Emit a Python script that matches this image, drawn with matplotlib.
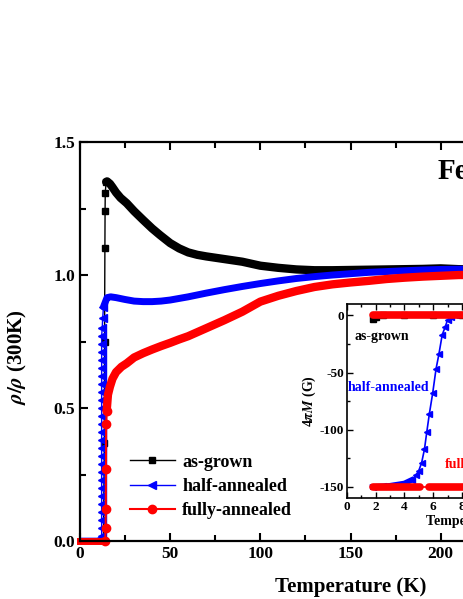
import matplotlib
matplotlib.use("Agg")
import matplotlib.pyplot as plt
from matplotlib.ticker import MultipleLocator

plt.rcParams['font.family'] = ['Liberation Serif', 'DejaVu Serif']
plt.rcParams['font.weight'] = 'bold'
plt.rcParams['mathtext.fontset'] = 'stix'
plt.rcParams['axes.unicode_minus'] = False

# --- main panel: rho/rho(300K) vs T ---
T_grown = [0, 5, 10, 13.0, 13.5, 13.6, 13.8, 13.9, 14.0, 14.5, 15, 16.6, 18, 20, 22.5, 25.9,
           30, 35, 40, 44.4, 50, 55, 60, 65, 70, 75, 80, 90, 100, 110, 120, 130, 140,
           150, 160, 170, 180, 190, 200, 210, 220, 240, 260, 280, 300]
r_grown = [0, 0, 0, 0, 0.37, 0.75, 1.10, 1.24, 1.31, 1.35, 1.352, 1.343, 1.33, 1.31, 1.29, 1.27,
           1.24, 1.207, 1.175, 1.15, 1.12, 1.10, 1.085, 1.076, 1.07, 1.065, 1.06, 1.05, 1.035, 1.027, 1.021, 1.018, 1.018,
           1.019, 1.02, 1.021, 1.022, 1.023, 1.025, 1.022, 1.02, 1.015, 1.01, 1.005, 1.0]

T_half = [0, 5, 10, 11.5, 12.0, 12.0, 12.0, 12.0, 12.0, 12.0, 12.0, 12.0, 12.0, 12.0, 12.0, 12.0,
          12.0, 12.0, 12.0, 12.0, 12.0, 12.0, 12.0, 12.0, 12.0, 12.0, 12.0, 12.0, 12.0, 12.0, 12.3, 12.6, 13.0,
          15, 17, 20, 25, 30, 35, 40, 45, 50, 55, 60, 65, 70, 80, 90, 100, 110, 120, 130, 140,
          150, 160, 170, 180, 190, 200, 210, 220, 240, 260, 280, 300]
r_half = [0.01, 0.01, 0.01, 0.01, 0.02, 0.05, 0.08, 0.11, 0.14, 0.17, 0.20, 0.23, 0.26, 0.29, 0.32, 0.35,
          0.38, 0.41, 0.44, 0.47, 0.50, 0.53, 0.56, 0.59, 0.62, 0.65, 0.68, 0.71, 0.74, 0.77, 0.80, 0.84, 0.88,
          0.915, 0.918, 0.915, 0.908, 0.902, 0.9, 0.9, 0.902, 0.906, 0.912, 0.918, 0.925, 0.932, 0.945, 0.957, 0.968, 0.978, 0.987, 0.994, 1.0,
          1.005, 1.01, 1.013, 1.016, 1.019, 1.021, 1.022, 1.02, 1.016, 1.01, 1.005, 1.0]

T_full = [0, 5, 10, 14.0, 14.2, 14.3, 14.4, 14.5, 14.8, 15.5, 16.6, 18, 20, 23, 25.9, 30, 35, 40, 45,
          50, 55, 60, 65, 70, 75, 80, 90, 100, 110, 120, 130, 140, 150, 160, 170, 180, 190, 200,
          210, 220, 240, 260, 280, 300]
r_full = [0, 0, 0, 0, 0.05, 0.12, 0.27, 0.44, 0.49, 0.55, 0.58, 0.61, 0.635, 0.655, 0.668, 0.69, 0.706, 0.72, 0.733,
          0.745, 0.758, 0.77, 0.785, 0.80, 0.815, 0.83, 0.862, 0.9, 0.922, 0.94, 0.955, 0.965, 0.972, 0.978, 0.985, 0.99, 0.994, 0.997,
          1.0, 1.0, 1.0, 1.0, 1.0, 1.0]

# --- inset: 4piM vs T ---
Ti_grown = [1.8, 2.0, 2.5, 4, 6, 8, 10, 12, 14, 16, 18]
M_grown = [-3, -1, 0, 0, 0, 0, 0, 0, 0, 0, 0]

Ti_half = [1.8, 2.5, 3, 3.5, 4, 4.5, 4.8, 5.0, 5.2, 5.4, 5.56, 5.74, 5.97, 6.2, 6.4, 6.63, 6.84, 7.0, 7.25,
           7.5, 8, 10, 12, 14, 16, 18]
M_half = [-150, -149.5, -149, -148, -147, -144, -140, -136, -129, -117, -102, -86, -68, -47, -34, -17, -10, -4, -1,
          0, 0, 0, 0, 0, 0, 0]

Ti_full_zfc = [1.8, 3, 4, 5.1, 5.4, 5.7, 7, 9, 12, 15, 18]
M_full_zfc = [-150, -150, -150, -150, -150, -150, -150, -150, -150, -150, -150]
Ti_full_fc = [1.8, 4, 6, 8, 10, 12, 14, 16, 18]
M_full_fc = [0, 0, 0, 0, 0, 0, 0, 0, 0]

fig = plt.figure(figsize=(4.63, 5.99), dpi=100)
ax = fig.add_axes([0.1728, 0.0968, 1.1685, 0.6661])

ax.plot(T_grown, r_grown, '-s', color='black', lw=1, ms=5, label='as-grown', markevery=list(range(4, 10)))
ax.plot(T_grown[9:], r_grown[9:], '-', color='black', lw=6, solid_capstyle='round', solid_joinstyle='round')
ax.plot(T_half, r_half, '-<', color='blue', lw=1, ms=6, label='half-annealed', markevery=list(range(3, 33)))
ax.plot(T_half[32:], r_half[32:], '-', color='blue', lw=5, solid_capstyle='round', solid_joinstyle='round')
ax.plot(T_full, r_full, '-o', color='red', lw=1.5, ms=6, label='fully-annealed', clip_on=False,
        markevery=list(range(3, 9)))
ax.plot(T_full[:4], r_full[:4], '-', color='red', lw=5, clip_on=False)
ax.plot(T_full[8:], r_full[8:], '-', color='red', lw=6, solid_capstyle='round', solid_joinstyle='round')

ax.set_xlim(0, 300)
ax.set_ylim(0, 1.5)
ax.xaxis.set_major_locator(MultipleLocator(50))
ax.xaxis.set_minor_locator(MultipleLocator(25))
ax.yaxis.set_major_locator(MultipleLocator(0.5))
ax.yaxis.set_minor_locator(MultipleLocator(0.25))
ax.yaxis.set_major_formatter(plt.FormatStrFormatter('%.1f'))
ax.tick_params(which='both', direction='in', top=True, right=True, width=1.5, labelsize=12.5)
ax.tick_params(which='major', length=6)
ax.tick_params(which='minor', length=4)
for s in ax.spines.values():
    s.set_linewidth(1.6)

ax.set_xlabel('Temperature (K)', fontsize=15, fontweight='bold', labelpad=11)
ax.set_ylabel(r'$\rho/\rho$ (300K)', fontsize=15, fontweight='bold')
ax.yaxis.set_label_coords(-0.095, 0.46)

ax.text(0.6617, 0.907, 'Fe', transform=ax.transAxes, fontsize=21, fontweight='bold', va='baseline')

ax.legend(loc='center left', bbox_to_anchor=(0.092, 0.137), frameon=False, fontsize=13,
          handlelength=2.5, handletextpad=0.4, labelspacing=0.4, borderpad=0, borderaxespad=0)

# inset
ins = fig.add_axes([0.7488, 0.1681, 0.56, 0.3244])
ins.plot(Ti_grown, M_grown, '-s', color='black', lw=1, ms=4)
ins.plot(Ti_half, M_half, '-<', color='blue', lw=1.2, ms=5)
ins.plot(Ti_half[:6], M_half[:6], '-', color='blue', lw=4)
ins.plot(Ti_full_fc, M_full_fc, '-', color='red', lw=5.5, solid_capstyle='round')
ins.plot(Ti_full_zfc, M_full_zfc, '-', color='red', lw=1.2)
ins.plot(Ti_full_zfc[:4], M_full_zfc[:4], '-', color='red', lw=5.5, solid_capstyle='round')
ins.plot(Ti_full_zfc[5:], M_full_zfc[5:], '-', color='red', lw=5.5, solid_capstyle='round')
ins.set_xlim(0, 18)
ins.set_ylim(-160, 10)
ins.xaxis.set_major_locator(MultipleLocator(2))
ins.xaxis.set_minor_locator(MultipleLocator(1))
ins.yaxis.set_major_locator(MultipleLocator(50))
ins.yaxis.set_minor_locator(MultipleLocator(25))
ins.tick_params(which='both', direction='in', top=True, right=True, width=1, labelsize=9.5, pad=2)
ins.tick_params(which='major', length=4)
ins.tick_params(which='minor', length=2.5)
for s in ins.spines.values():
    s.set_linewidth(1.2)
ins.set_xlabel('Temperature (K)', fontsize=10, fontweight='bold', labelpad=1)
ins.set_ylabel(r'4$\pi M$ (G)', fontsize=10, fontweight='bold', labelpad=1)
ins.text(0.032, 0.815, 'as-grown', transform=ins.transAxes, fontsize=10, fontweight='bold', color='black')
ins.text(0.003, 0.553, 'half-annealed', transform=ins.transAxes, fontsize=10, fontweight='bold', color='blue')
ins.text(0.378, 0.155, 'fully-annealed', transform=ins.transAxes, fontsize=10, fontweight='bold', color='red')

fig.savefig('out.png', dpi=100)
